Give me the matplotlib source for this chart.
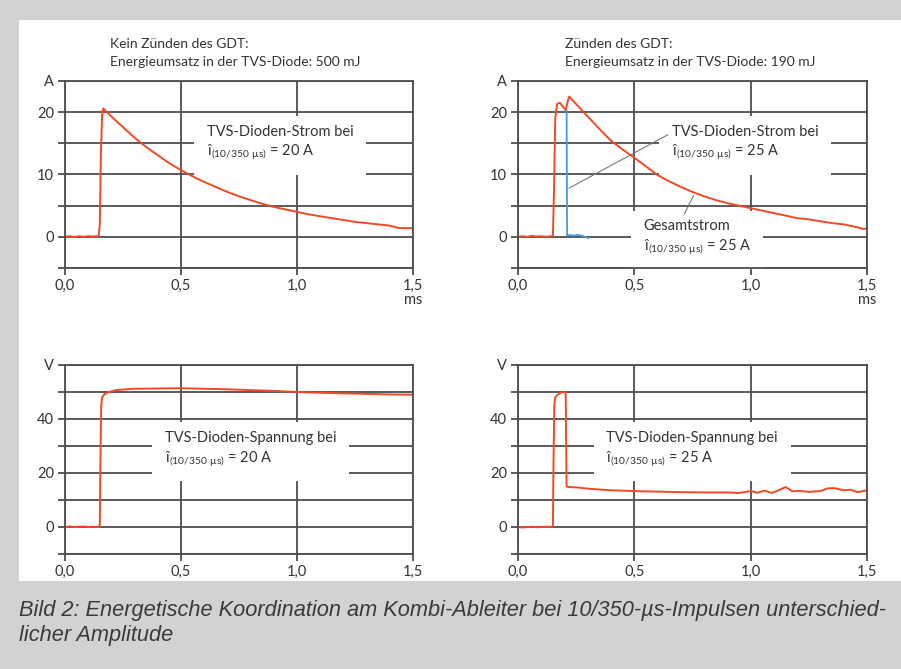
import numpy as np
import matplotlib
matplotlib.use("Agg")
import matplotlib.pyplot as plt
from matplotlib.patches import Rectangle

# --- data (time in ms) ---
t_i20 = [0, 0.02, 0.04, 0.06, 0.08, 0.10, 0.12, 0.145, 0.150, 0.155, 0.160, 0.165,
         0.20, 0.25, 0.30, 0.35, 0.40, 0.45, 0.50, 0.55, 0.60, 0.65, 0.70, 0.75,
         0.80, 0.85, 0.90, 0.95, 1.00, 1.05, 1.10, 1.15, 1.20, 1.25, 1.30, 1.35,
         1.40, 1.44, 1.46, 1.50]
i_20 = [0, 0.1, -0.05, 0.1, 0, 0.1, 0.05, 0.1, 2, 14, 19.5, 20.6,
        19.3, 17.6, 15.9, 14.4, 13.1, 11.8, 10.7, 9.7, 8.8, 8.0, 7.2, 6.5,
        5.9, 5.3, 4.8, 4.4, 4.0, 3.6, 3.3, 3.0, 2.7, 2.4, 2.2, 2.0,
        1.8, 1.4, 1.4, 1.4]

t_ges = [0, 0.02, 0.04, 0.06, 0.08, 0.10, 0.12, 0.14, 0.150, 0.155, 0.160, 0.168,
         0.18, 0.195, 0.205, 0.212, 0.220, 0.25, 0.30, 0.35, 0.40, 0.45, 0.50,
         0.55, 0.60, 0.65, 0.70, 0.75, 0.80, 0.85, 0.90, 0.95, 1.00, 1.05, 1.10,
         1.15, 1.20, 1.25, 1.30, 1.35, 1.40, 1.45, 1.48, 1.50]
i_ges = [0, 0.1, 0, 0.15, 0.05, 0.1, 0, 0.1, 0.1, 8, 19, 21.3,
         21.5, 20.8, 20.3, 21.5, 22.5, 21.3, 19.3, 17.3, 15.4, 14.0, 12.7,
         11.3, 9.9, 8.9, 8.0, 7.2, 6.5, 5.9, 5.4, 5.0, 4.6, 4.2, 3.8,
         3.4, 3.0, 2.8, 2.5, 2.2, 2.0, 1.6, 1.3, 1.3]

t_tvs = [0.209, 0.210, 0.211, 0.22, 0.24, 0.26, 0.28, 0.30]
i_tvs = [20.3, 10, 0.2, 0.3, 0.2, 0.3, 0.1, -0.2]

t_u20 = [0, 0.02, 0.04, 0.06, 0.08, 0.10, 0.12, 0.14, 0.150, 0.152, 0.156, 0.160,
         0.17, 0.19, 0.22, 0.26, 0.30, 0.40, 0.50, 0.60, 0.70, 0.80, 0.90, 1.00,
         1.10, 1.20, 1.30, 1.40, 1.50]
u_20 = [0, 0.2, 0, 0.1, 0.2, 0, 0.1, 0, 0.3, 20, 45, 48,
        49.2, 50, 50.7, 51.0, 51.2, 51.3, 51.4, 51.2, 51.0, 50.7, 50.4, 50.0,
        49.7, 49.5, 49.3, 49.1, 49.0]

t_u25 = [0, 0.02, 0.04, 0.06, 0.08, 0.10, 0.12, 0.14, 0.150, 0.152, 0.156, 0.160,
         0.17, 0.185, 0.20, 0.205, 0.207, 0.209, 0.22, 0.26, 0.30, 0.35, 0.40,
         0.50, 0.60, 0.70, 0.80, 0.90, 0.95, 1.00, 1.03, 1.06, 1.09, 1.12, 1.15,
         1.18, 1.21, 1.25, 1.30, 1.33, 1.36, 1.40, 1.43, 1.46, 1.50]
u_25 = [0, -0.2, 0, 0.1, -0.1, 0, 0.1, 0, 0.3, 20, 45, 48,
        49, 49.8, 50, 49.5, 30, 15.0, 14.8, 14.6, 14.2, 13.9, 13.6,
        13.3, 13.1, 12.9, 12.8, 12.8, 12.6, 13.3, 12.7, 13.5, 12.6, 13.6, 14.8,
        13.2, 13.4, 13.0, 13.3, 14.3, 14.4, 13.6, 13.8, 12.9, 13.6]

x_ticks = [0, 0.5, 1.0, 1.5]
x_labels = ["0,0", "0,5", "1,0", "1,5"]
i_ticks = [-5, 0, 5, 10, 15, 20, 25]
i_labels = ["", "0", "", "10", "", "20", "A"]
u_ticks = [-10, 0, 10, 20, 30, 40, 50, 60]
u_labels = ["", "0", "", "20", "", "40", "", "V"]

RED = "#f04a25"
BLUE = "#4a9ad8"
GRID = "#4d4d4d"
TXT = "#333333"

plt.rcParams["font.family"] = ["Lato", "DejaVu Sans"]
plt.rcParams["mathtext.fontset"] = "custom"
plt.rcParams["mathtext.rm"] = "Lato"

fig = plt.figure(figsize=(9.01, 6.69), dpi=100, facecolor="#d1d2d4")
fig.patches.append(Rectangle((19 / 901, 1 - 581 / 669), 1, (581 - 20) / 669,
                             transform=fig.transFigure, facecolor="white",
                             edgecolor="none", zorder=-10))


def setup(ax, yticks, ylabels, ylim):
    ax.set_xlim(0, 1.5)
    ax.set_ylim(*ylim)
    ax.set_xticks(x_ticks)
    ax.set_xticklabels(x_labels)
    ax.set_yticks(yticks)
    ax.set_yticklabels(ylabels)
    ax.tick_params(colors=GRID, labelcolor=TXT, width=1.3, length=5,
                   labelsize=10.5, pad=3)
    for s in ax.spines.values():
        s.set_color(GRID)
        s.set_linewidth(1.3)
    ax.set_axisbelow(True)
    ax.grid(True, color=GRID, lw=1.3)
    ax.set_facecolor("none")


box = dict(facecolor="white", edgecolor="none", pad=9)
sub = "î$_{\\mathregular{(10/350\\ µs)}}$"

# top left: no GDT firing
ax1 = fig.add_axes([65 / 901, 1 - 268 / 669, 348 / 901, 187 / 669])
setup(ax1, i_ticks, i_labels, (-5, 25))
ax1.plot(t_i20, i_20, color=RED, lw=1.4)
ax1.text(0.61, 15, "TVS-Dioden-Strom bei\n" + sub + " = 20 A",
         fontsize=10.5, color=TXT, va="center", ha="left", bbox=box, linespacing=1.3)

# top right: GDT fires
ax2 = fig.add_axes([518 / 901, 1 - 268 / 669, 349 / 901, 187 / 669])
setup(ax2, i_ticks, i_labels, (-5, 25))
ax2.plot(t_ges, i_ges, color=RED, lw=1.4)
ax2.plot(t_tvs, i_tvs, color=BLUE, lw=1.3)
ax2.text(0.66, 15, "TVS-Dioden-Strom bei\n" + sub + " = 25 A",
         fontsize=10.5, color=TXT, va="center", ha="left", bbox=box, linespacing=1.3)
ax2.text(0.54, -0.2, "Gesamtstrom\n" + sub + " = 25 A",
         fontsize=10.5, color=TXT, va="center", ha="left", bbox=box, linespacing=1.3,
         zorder=1.5)
ax2.annotate("", xy=(t_tvs[0], 7.6), xytext=(0.655, 16.6),
             arrowprops=dict(arrowstyle="-", color="#777777", lw=0.8))
ax2.annotate("", xy=(0.76, 7.0), xytext=(0.71, 3.3),
             arrowprops=dict(arrowstyle="-", color="#777777", lw=0.8))

for ax in (ax1, ax2):
    ax.text(1.0, -0.17, "ms", transform=ax.transAxes, fontsize=10.5,
            color=TXT, ha="center", va="center")

# bottom left
ax3 = fig.add_axes([65 / 901, 1 - 554 / 669, 348 / 901, 189 / 669])
setup(ax3, u_ticks, u_labels, (-10, 60))
ax3.plot(t_u20, u_20, color=RED, lw=1.4)
ax3.text(0.43, 28.5, "TVS-Dioden-Spannung bei\n" + sub + " = 20 A",
         fontsize=10.5, color=TXT, va="center", ha="left", bbox=box, linespacing=1.3)

# bottom right
ax4 = fig.add_axes([518 / 901, 1 - 554 / 669, 349 / 901, 189 / 669])
setup(ax4, u_ticks, u_labels, (-10, 60))
ax4.plot(t_u25, u_25, color=RED, lw=1.4)
ax4.text(0.38, 28.5, "TVS-Dioden-Spannung bei\n" + sub + " = 25 A",
         fontsize=10.5, color=TXT, va="center", ha="left", bbox=box, linespacing=1.3)

# headings
fig.text(110 / 901, 1 - 53 / 669, "Kein Zünden des GDT:\nEnergieumsatz in der TVS-Diode: 500 mJ",
         fontsize=10, color=TXT, va="center", ha="left", linespacing=1.6)
fig.text(565 / 901, 1 - 53 / 669, "Zünden des GDT:\nEnergieumsatz in der TVS-Diode: 190 mJ",
         fontsize=10, color=TXT, va="center", ha="left", linespacing=1.6)

# caption
fig.text(19 / 901, 1 - 623 / 669,
         "Bild 2: Energetische Koordination am Kombi-Ableiter bei 10/350-µs-Impulsen unterschied-\nlicher Amplitude",
         family=["Liberation Sans", "DejaVu Sans"], style="italic", fontsize=15.7,
         color="#3a3a3a", va="center", ha="left", linespacing=1.25)

fig.savefig("out.png", dpi=100, facecolor=fig.get_facecolor())
